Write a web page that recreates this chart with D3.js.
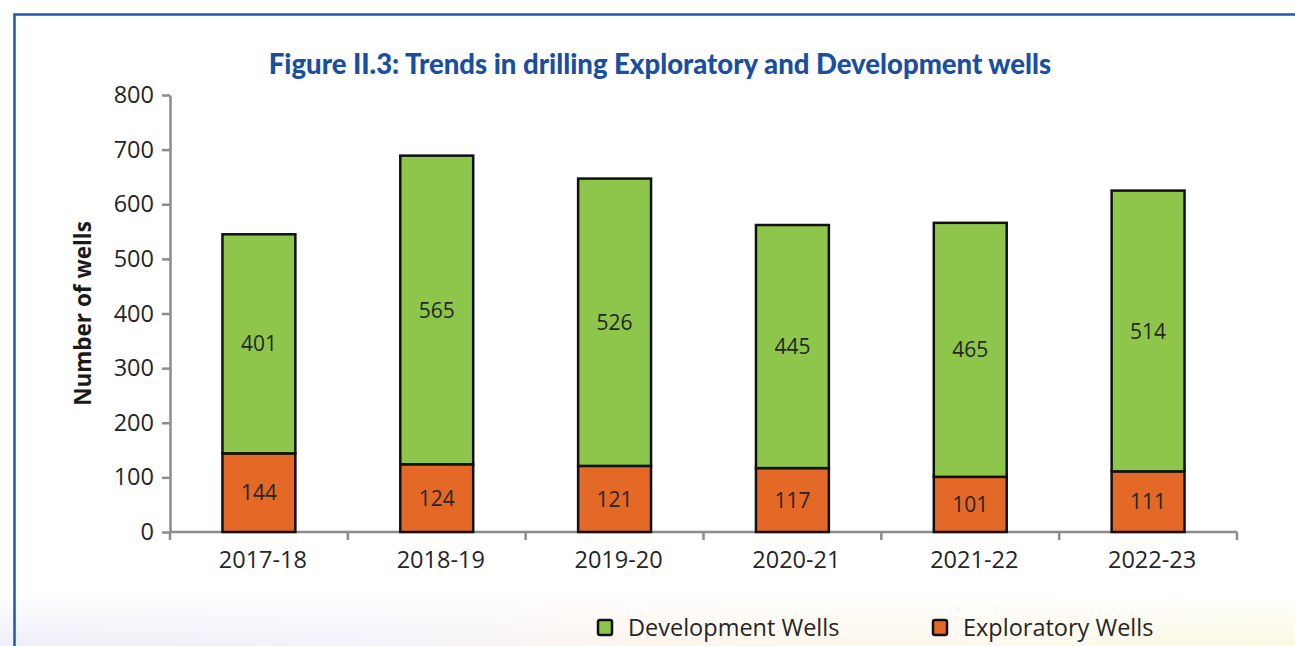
<!DOCTYPE html>
<html>
<head>
<meta charset="utf-8">
<script src="https://cdn.jsdelivr.net/npm/d3@7"></script>
<style>
  html, body { margin: 0; padding: 0; background: #fff; }
  svg { display: block; }
</style>
</head>
<body>
<div id="chart"></div>
<script>
// chart values
var years = ["2017-18", "2018-19", "2019-20", "2020-21", "2021-22", "2022-23"];
var exploratory = [144, 124, 121, 117, 101, 111];
var development = [401, 565, 526, 445, 465, 514];
var yTicks = [0, 100, 200, 300, 400, 500, 600, 700, 800];
var seriesNames = ["Development Wells", "Exploratory Wells"];

var W = 1295, H = 646;
var margin = {top: 95, left: 170, right: 58, bottom: 114};
var green = "#8dc64a", orange = "#e46826", axisGrey = "#8c8c8c", ink = "#262626";

var svg = d3.select("#chart").append("svg")
  .attr("width", W)
  .attr("height", H);

// soft glow at the bottom of the page
var defs = svg.append("defs");
var hg = defs.append("linearGradient").attr("id", "glow");
hg.append("stop").attr("offset", "0%").attr("stop-color", "#ececf7");
hg.append("stop").attr("offset", "30%").attr("stop-color", "#f3f1f9");
hg.append("stop").attr("offset", "50%").attr("stop-color", "#fdf4ea");
hg.append("stop").attr("offset", "80%").attr("stop-color", "#fdf8ea");
hg.append("stop").attr("offset", "100%").attr("stop-color", "#fbf8de");
var vg = defs.append("linearGradient").attr("id", "fade")
  .attr("x1", 0).attr("y1", 0).attr("x2", 0).attr("y2", 1);
vg.append("stop").attr("offset", "0%").attr("stop-color", "#fff").attr("stop-opacity", 1);
vg.append("stop").attr("offset", "100%").attr("stop-color", "#fff").attr("stop-opacity", 0.1);

svg.append("rect").attr("x", 0).attr("y", 592).attr("width", W).attr("height", H - 592)
  .attr("fill", "url(#glow)");
svg.append("rect").attr("x", 0).attr("y", 592).attr("width", W).attr("height", H - 592)
  .attr("fill", "url(#fade)");

// blue frame
svg.append("path")
  .attr("d", "M14.5," + H + "V14.5H" + W)
  .attr("fill", "none")
  .attr("stroke", "#1f58a8")
  .attr("stroke-width", 2.5);

// title
svg.append("text")
  .attr("x", 660)
  .attr("y", 74)
  .attr("text-anchor", "middle")
  .style("font-family", "Lato, 'Open Sans', sans-serif")
  .style("font-weight", "900")
  .style("font-size", "27.5px")
  .style("fill", "#1a4fa0")
  .text("Figure II.3: Trends in drilling Exploratory and Development wells");

var x = d3.scaleBand()
  .domain(years)
  .range([margin.left, W - margin.right])
  .paddingInner(0.59)
  .paddingOuter(0.295);

var y = d3.scaleLinear()
  .domain([0, 800])
  .range([H - margin.bottom, margin.top]);

var rows = years.map(function (yr, i) {
  return {year: yr, exploratory: exploratory[i], development: development[i]};
});
var stack = d3.stack().keys(["exploratory", "development"])(rows);
var fills = {exploratory: orange, development: green};

// y axis
var yAxis = svg.append("g")
  .attr("transform", "translate(" + margin.left + ",0)")
  .call(d3.axisLeft(y).tickValues(yTicks).tickSize(8).tickPadding(8).tickSizeOuter(0));
yAxis.select(".domain").attr("stroke", axisGrey).attr("stroke-width", 2.5);
yAxis.selectAll(".tick line").attr("stroke", axisGrey).attr("stroke-width", 2.5);
yAxis.selectAll(".tick text")
  .style("font-family", "'Open Sans', sans-serif")
  .style("font-size", "23.5px")
  .style("fill", ink);

// x axis, ticks at category boundaries
var step = x.step();
var xb = svg.append("g").attr("transform", "translate(0," + y(0) + ")");
xb.append("line")
  .attr("x1", margin.left).attr("x2", W - margin.right)
  .attr("stroke", axisGrey).attr("stroke-width", 2.5);
xb.selectAll("line.b")
  .data(d3.range(years.length + 1))
  .join("line")
  .attr("class", "b")
  .attr("x1", function (i) { return margin.left + i * step; })
  .attr("x2", function (i) { return margin.left + i * step; })
  .attr("y1", 0).attr("y2", 8)
  .attr("stroke", axisGrey).attr("stroke-width", 2.5);
xb.selectAll("text")
  .data(years)
  .join("text")
  .attr("x", function (d) { return x(d) + x.bandwidth() / 2 + 4; })
  .attr("y", 36)
  .attr("text-anchor", "middle")
  .style("font-family", "'Open Sans', sans-serif")
  .style("font-size", "23.5px")
  .style("fill", ink)
  .text(function (d) { return d; });

// y axis title
svg.append("text")
  .attr("transform", "translate(91," + y(400) + ") rotate(-90)")
  .attr("text-anchor", "middle")
  .style("font-family", "'Open Sans', sans-serif")
  .style("font-weight", "bold")
  .style("font-size", "22.5px")
  .style("fill", "#1a1a1a")
  .text("Number of wells");

// bars
var layers = svg.selectAll("g.layer")
  .data(stack)
  .join("g")
  .attr("class", "layer")
  .attr("fill", function (d) { return fills[d.key]; });

layers.selectAll("rect")
  .data(function (d) { return d; })
  .join("rect")
  .attr("x", function (d) { return x(d.data.year); })
  .attr("width", x.bandwidth())
  .attr("y", function (d) { return y(d[1]); })
  .attr("height", function (d) { return y(d[0]) - y(d[1]); })
  .attr("stroke", "#111")
  .attr("stroke-width", 2.5);

layers.selectAll("text")
  .data(function (d) { return d; })
  .join("text")
  .attr("x", function (d) { return x(d.data.year) + x.bandwidth() / 2; })
  .attr("y", function (d) { return y((d[0] + d[1]) / 2); })
  .attr("dy", "0.36em")
  .attr("text-anchor", "middle")
  .style("font-family", "'Open Sans', sans-serif")
  .style("font-size", "21px")
  .style("fill", ink)
  .text(function (d) { return d[1] - d[0]; });

// legend
var legendX = [597, 932];
var lg = svg.selectAll("g.legend")
  .data(seriesNames)
  .join("g")
  .attr("class", "legend")
  .attr("transform", function (d, i) { return "translate(" + legendX[i] + ",619)"; });
lg.append("rect")
  .attr("x", 1).attr("y", 1)
  .attr("width", 14).attr("height", 15)
  .attr("rx", 2)
  .attr("fill", function (d, i) { return i === 0 ? green : orange; })
  .attr("stroke", "#111")
  .attr("stroke-width", 2.5);
lg.append("text")
  .attr("x", 31)
  .attr("y", 17)
  .style("font-family", "'Open Sans', sans-serif")
  .style("font-size", "23.5px")
  .style("fill", ink)
  .text(function (d) { return d; });
</script>
</body>
</html>
